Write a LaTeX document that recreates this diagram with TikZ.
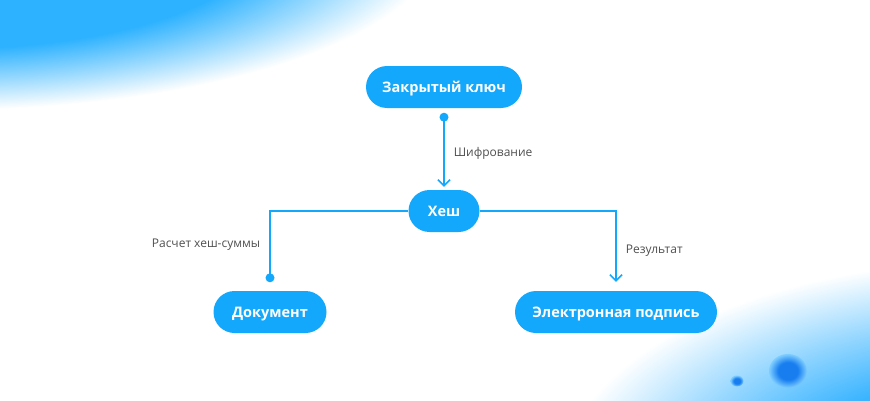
\documentclass[tikz,border=0pt]{standalone}
\usepackage{fontspec}
\setmainfont{Open Sans}
\usetikzlibrary{arrows.meta,positioning,calc}

\definecolor{pillblue}{RGB}{20,168,252}
\definecolor{glowblue}{RGB}{45,178,255}
\definecolor{glowsoft}{RGB}{58,180,255}
\definecolor{blobblue}{RGB}{24,126,240}
\definecolor{labelgray}{RGB}{80,80,80}

\pgfdeclareradialshading{glowtl}{\pgfpoint{0bp}{0bp}}{color(0bp)=(glowblue); color(16bp)=(glowblue); color(21bp)=(glowblue!45); color(25bp)=(white); color(50bp)=(white)}
\pgfdeclareradialshading{glowbr}{\pgfpoint{0bp}{0bp}}{color(0bp)=(glowsoft); color(12bp)=(glowsoft); color(18bp)=(glowsoft!55); color(25bp)=(white); color(50bp)=(white)}
\pgfdeclareradialshading{blob}{\pgfpoint{0bp}{0bp}}{color(0bp)=(blobblue); color(13bp)=(blobblue); color(25bp)=(glowsoft!65); color(50bp)=(glowsoft!65)}

\begin{document}
\begin{tikzpicture}[x=1pt,y=1pt,
  pill/.style={rectangle,rounded corners=21pt,fill=pillblue,text=white,minimum height=42pt,
    text height=10pt,text depth=0pt,font=\fontsize{14.5}{16}\selectfont\bfseries},
  flow/.style={pillblue,line width=1.6pt},
  lbl/.style={text=labelgray,font=\fontsize{12}{14}\selectfont,inner sep=0pt}]
\useasboundingbox (0,0) rectangle (870,400);
\fill[white] (0,0) rectangle (870,400);
% background glows
\begin{scope}
\clip (0,0) rectangle (870,400);
\shade[shading=glowtl] (-60,460) ellipse (500 and 170);
\shade[shading=glowbr] (1000,-80) ellipse (440 and 220);
\end{scope}
\shade[shading=blob] (788,29) ellipse (19 and 17);
\shade[shading=blob] (737,19) ellipse (6.5 and 5.5);

% boxes
\node[pill,minimum width=156pt] (key) at (444,313) {Закрытый ключ};
\node[pill,minimum width=71pt] (hash) at (444,189) {Хеш};
\node[pill,minimum width=113pt] (doc) at (270,88) {Документ};
\node[pill,minimum width=202pt] (sig) at (616,88) {Электронная подпись};

% connectors
\coordinate (keydot) at ($(key.south)+(0,-9)$);
\coordinate (docdot) at ($(doc.north)+(0,13)$);
\fill[pillblue] (keydot) circle (4.5);
\fill[pillblue] (docdot) circle (4.5);
\draw[flow,-{Straight Barb[length=6pt,width=12pt]},shorten >=3pt] (keydot) -- node[lbl,right=9pt] (enclbl) {Шифрование} (hash);
\draw[flow] (docdot) |- node[lbl,left=9pt,pos=0.25] (sumlbl) {Расчет хеш-суммы} (hash.west);
\draw[flow,-{Straight Barb[length=6pt,width=12pt]},shorten >=9pt] (hash.east) -| node[lbl,right=9pt,pos=0.75] (reslbl) {Результат} (sig.north);
\end{tikzpicture}
\end{document}
